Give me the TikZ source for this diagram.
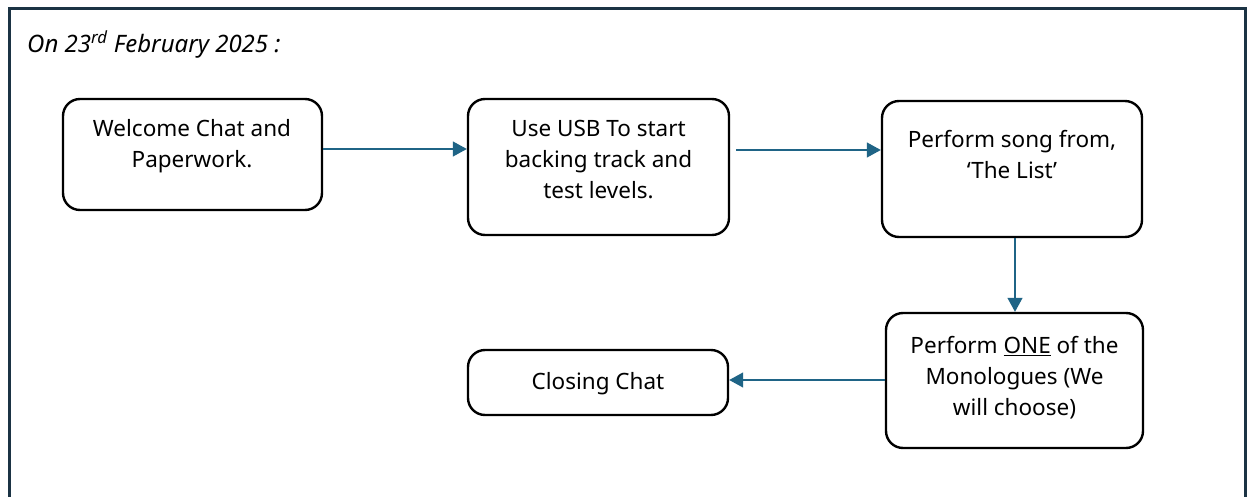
\documentclass[tikz,border=0pt]{standalone}
\usepackage{fontspec}
\setmainfont{Noto Sans}
\usetikzlibrary{arrows.meta}
\definecolor{framecol}{HTML}{1B3344}
\definecolor{arrcol}{HTML}{1F6486}
\tikzset{
  x=1pt, y=-1pt,
  stepbox/.style={draw=black, line width=2.4pt, rounded corners=17pt, rectangle, inner sep=0pt, fill=white},
  txt/.style={font=\fontsize{22.5}{31}\selectfont, align=center, inner sep=0pt, text=black,
    execute at begin node=\strut, execute at end node=\strut},
  arr/.style={draw=arrcol, line width=1.3pt, -{Triangle[length=14pt,width=15pt]}, arrcol}
}
\begin{document}
\begin{tikzpicture}
\useasboundingbox (0,0) rectangle (1247,497);
\fill[white] (0,0) rectangle (1247,497);
% frame
\draw[framecol, line width=3pt] (9,497) -- (9,9) -- (1245.5,9) -- (1245.5,497);
% title
\node[anchor=base west, inner sep=0pt, font=\fontsize{24}{28}\selectfont\itshape] (title) at (27,53) {On 23\textsuperscript{rd} February 2025 :};
% boxes
\node[stepbox, minimum width=259pt, minimum height=111pt] (b1) at (192.5,154.5) {};
\node[stepbox, minimum width=261pt, minimum height=136pt] (b2) at (598.5,167) {};
\node[stepbox, minimum width=260pt, minimum height=136pt] (b3) at (1012,169) {};
\node[stepbox, minimum width=257pt, minimum height=135pt] (b4) at (1014.5,380.5) {};
\node[stepbox, minimum width=260pt, minimum height=65pt] (b5) at (598,382.5) {};
% texts
\node[txt] (t1) at (192,148) {Welcome Chat and\\Paperwork.};
\node[txt] (t2) at (598.5,164.5) {Use USB To start\\backing track and\\test levels.};
\node[txt] (t3) at (1012,159) {Perform song from,\\‘The List’};
\node[txt] (t4) at (1014.5,380.5) {Perform \underline{ONE} of the\\Monologues (We\\will choose)};
\node[txt] (t5) at (598,383.5) {Closing Chat};
% connectors
\draw[arr] ([yshift=5.5pt]b1.east) -- ([yshift=18pt]b2.west);
\draw[arr] ([xshift=6pt,yshift=17pt]b2.east) -- ([yshift=19pt]b3.west);
\draw[arr] ([xshift=3pt]b3.south) -- ([xshift=0.5pt]b4.north);
\draw[arr] ([yshift=0.5pt]b4.west) -- ([yshift=2.5pt]b5.east);
\end{tikzpicture}
\end{document}
